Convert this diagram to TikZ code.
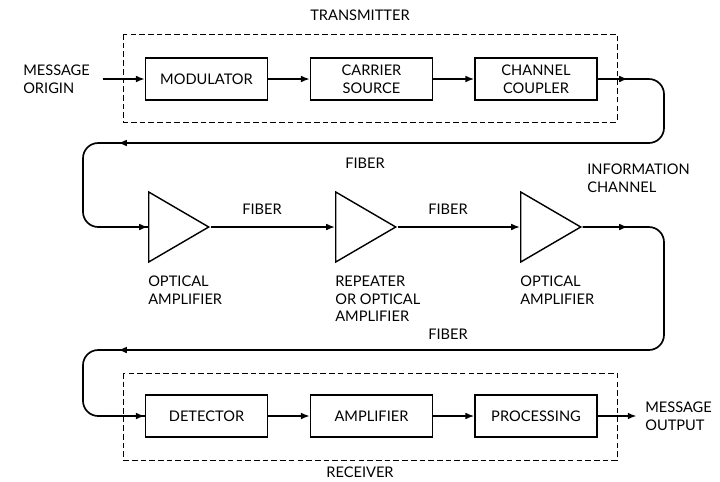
\documentclass[tikz,border=0pt]{standalone}
\usepackage{fontspec}
\setmainfont{Lato}
\usetikzlibrary{arrows.meta,positioning,shapes.geometric}

\begin{document}
\begin{tikzpicture}[x=0.025cm, y=-0.025cm,
    font=\fontsize{10.4}{12.5}\selectfont]
\tikzset{
    BX/.style={draw, line width=1pt, minimum width=3.05cm, minimum height=1.05cm,
               align=center, inner sep=1pt},
    AMP/.style={draw, line width=1pt, isosceles triangle, isosceles triangle stretches,
                shape border rotate=0, minimum width=1.75cm, minimum height=1.5cm,
                inner sep=0pt, anchor=west},
    GRP/.style={draw, line width=0.6pt, dash pattern=on 4pt off 2.2pt},
    LBL/.style={align=left, inner sep=0pt},
    FIB/.style={line width=1.2pt, -{Latex[length=2.2mm, width=1.7mm]}},
    RUN/.style={line width=1.2pt, rounded corners=0.38cm},
}
\useasboundingbox (0,0) rectangle (720,481);

% Transmitter
\node (txl) at (360,15) {TRANSMITTER};
\draw[GRP] (123,34) rectangle (617,122);
\node[LBL, anchor=west] (org) at (23,79) {MESSAGE\\ORIGIN};
\node[BX] (mod) at (206.5,79) {MODULATOR};
\node[BX] (src) at (371.5,79) {CARRIER\\SOURCE};
\node[BX] (cpl) at (536,79) {CHANNEL\\COUPLER};

\draw[FIB] ([xshift=9pt]org.east) -- (mod.west);
\draw[FIB] (mod) -- (src);
\draw[FIB] (src) -- (cpl);

% Receiver
\draw[GRP] (123,373) rectangle (617,460);
\node[BX] (det) at (206.5,416) {DETECTOR};
\node[BX] (ampr) at (371.5,416) {AMPLIFIER};
\node[BX] (prc) at (536,416) {PROCESSING};
\node[LBL, anchor=west] (out) at (645,416) {MESSAGE\\OUTPUT};
\node (rxl) at (360,472) {RECEIVER};

\draw[FIB] (det) -- (ampr);
\draw[FIB] (ampr) -- (prc);
\draw[FIB] (prc.east) -- ([xshift=-6pt]out.west);

% Fiber run with optical amplifiers
\coordinate (f1) at (628,79);
\coordinate (f2) at (118,143);
\coordinate (f3) at (628,227);
\coordinate (f4) at (118,350);
\node[AMP] (amp1) at (148,227) {};
\node[AMP] (amp2) at (335,227) {};
\node[AMP] (amp3) at (520,227) {};

\draw[RUN] (cpl.east) -- (664,79) -- (664,143) -- (83,143) -- (83,227) -- (amp1.west);
\draw[FIB] (cpl.east) -- (f1);
\draw[FIB] (f2) ++(20,0) -- (f2);
\draw[FIB] ([xshift=-20pt]amp1.west) -- (amp1.west);
\draw[FIB] (amp1.apex) -- (amp2.west);
\draw[FIB] (amp2.apex) -- (amp3.west);
\draw[RUN] (amp3.apex) -- (664,227) -- (664,350) -- (83,350) -- (83,416) -- (det.west);
\draw[FIB] (amp3.apex) -- (f3);
\draw[FIB] (f4) ++(20,0) -- (f4);
\draw[FIB] ([xshift=-20pt]det.west) -- (det.west);

\node (fb1) at (365,163) {FIBER};
\node (fb2) at (262,209) {FIBER};
\node (fb3) at (448,209) {FIBER};
\node (fb4) at (448,334) {FIBER};
\node[LBL, anchor=west] (chn) at (587,178) {INFORMATION\\CHANNEL};
\node[LBL, anchor=north west] (a1l) at (148,276) {OPTICAL\\AMPLIFIER};
\node[LBL, anchor=north west] (a2l) at (335,276) {REPEATER\\OR OPTICAL\\AMPLIFIER};
\node[LBL, anchor=north west] (a3l) at (520,276) {OPTICAL\\AMPLIFIER};

\end{tikzpicture}
\end{document}
